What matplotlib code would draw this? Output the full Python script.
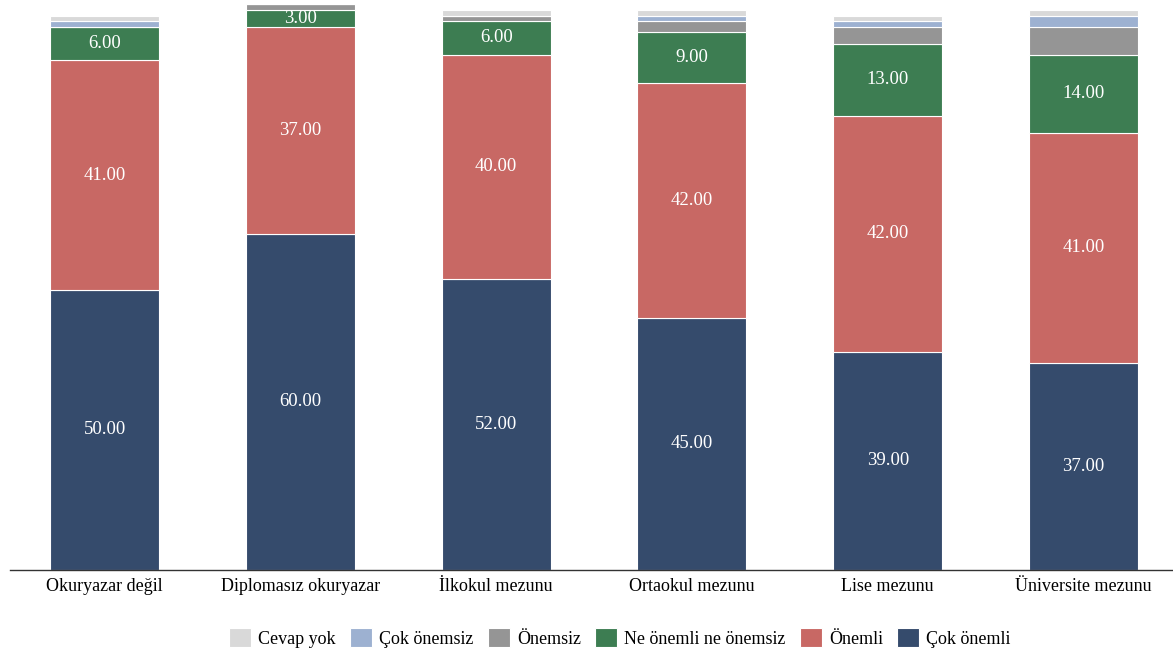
import numpy as np
import matplotlib.pyplot as plt

plt.rcParams.update({
    "font.family": ["Liberation Serif", "DejaVu Serif"],
    "font.size": 11,
})

CATEGORIES = ["Okuryazar değil", "Diplomasız okuryazar", "İlkokul mezunu",
              "Ortaokul mezunu", "Lise mezunu", "Üniversite mezunu"]

# stacked from bottom to top
cok_onemli = [50, 60, 52, 45, 39, 37]
onemli = [41, 37, 40, 42, 42, 41]
ne_onemli = [6, 3, 6, 9, 13, 14]
onemsiz = [0, 1, 1, 2, 3, 5]
cok_onemsiz = [1, 0, 0, 1, 1, 2]
cevap_yok = [1, 0, 1, 1, 1, 1]

SERIES = [
    ("Çok önemli", cok_onemli, "#354B6C", True),
    ("Önemli", onemli, "#C86864", True),
    ("Ne önemli ne önemsiz", ne_onemli, "#3D7D52", True),
    ("Önemsiz", onemsiz, "#959595", False),
    ("Çok önemsiz", cok_onemsiz, "#9DB1D1", False),
    ("Cevap yok", cevap_yok, "#D9D9D9", False),
]

W, H = 1173, 656
fig = plt.figure(figsize=(W / 100, H / 100), dpi=100)
ax = fig.add_axes([10 / W, 86 / H, (1173 - 10) / W, 568.4 / H])

x = np.arange(len(CATEGORIES))
bottom = np.zeros(len(CATEGORIES))
handles = {}
for name, vals, color, labelled in SERIES:
    vals = np.array(vals, dtype=float)
    bars = ax.bar(x, vals, width=0.557, bottom=bottom, color=color,
                  edgecolor="white", linewidth=0.8)
    handles[name] = bars
    if labelled:
        for xi, b, v in zip(x, bottom, vals):
            ax.text(xi, b + v / 2, f"{v:.2f}", ha="center", va="center",
                    color="white", fontsize=13.5)
    bottom += vals

ax.set_xlim(-0.483, 5.457)
ax.set_ylim(0, 101.5)
ax.set_xticks(x)
ax.set_xticklabels(CATEGORIES, fontsize=13)
ax.tick_params(axis="x", length=0, pad=6)
ax.set_yticks([])
for s in ("top", "right", "left"):
    ax.spines[s].set_visible(False)
ax.spines["bottom"].set_color("#333333")
ax.spines["bottom"].set_linewidth(1.0)

order = ["Cevap yok", "Çok önemsiz", "Önemsiz", "Ne önemli ne önemsiz",
         "Önemli", "Çok önemli"]
fig.legend([handles[n] for n in order], order, loc="center",
           bbox_to_anchor=(620 / W, 1 - 638 / H), ncol=6, frameon=False,
           fontsize=13, handlelength=1.2, handleheight=1.2,
           handletextpad=0.4, columnspacing=0.8)

fig.savefig("out.png", dpi=100)
